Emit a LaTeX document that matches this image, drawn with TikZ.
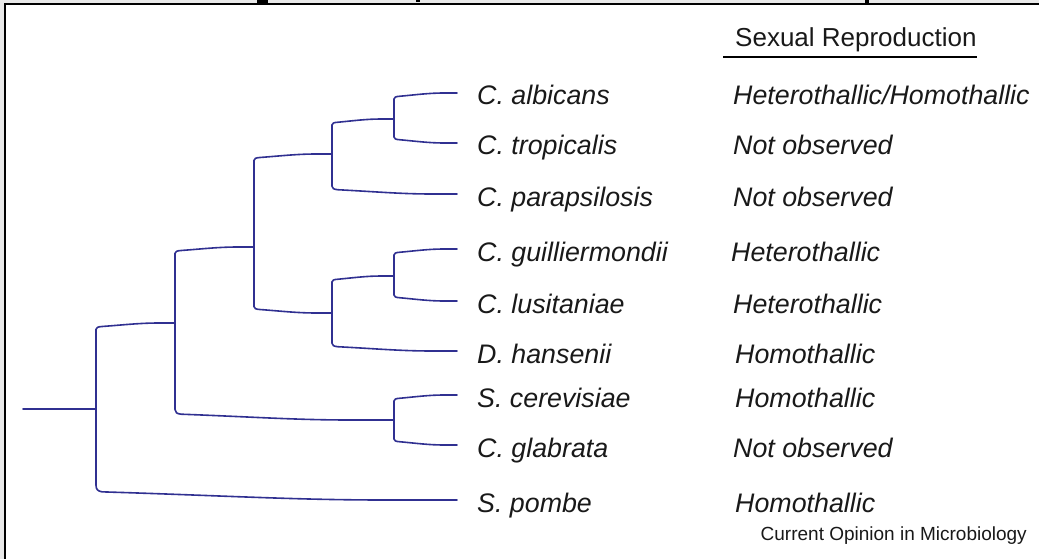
\documentclass[tikz,border=0pt]{standalone}
\usepackage{fontspec}
\setmainfont{Liberation Sans}
\usetikzlibrary{calc}
\definecolor{treeblue}{RGB}{48,48,145}
\definecolor{ink}{RGB}{25,25,25}
\definecolor{bandgray}{RGB}{232,232,232}
\tikzset{
  br/.style={draw=treeblue, line width=1.6pt, line cap=round, line join=round},
  sp/.style={anchor=base west, inner sep=0pt, text=ink, font=\fontsize{26.8}{30}\selectfont\itshape},
  rep/.style={anchor=base west, inner sep=0pt, text=ink, font=\fontsize{26.8}{30}\selectfont\itshape},
  head/.style={anchor=base west, inner sep=0pt, text=ink, font=\fontsize{26}{30}\selectfont},
  foot/.style={anchor=base east, inner sep=0pt, text=ink, font=\fontsize{19}{22}\selectfont}
}
\newcommand{\branch}[2]{%
  \draw[br] let \p1=(#1), \p2=(#2),
    \n1={sign(\y1-\y2)*(4+0.03*(\x2-\x1))}, \n2={\x2-\x1} in
    (#1) -- (\x1,\y2+\n1)
    .. controls (\x1,\y2+0.7*\n1) and (\x1+2,\y2+0.6*\n1) .. (\x1+6,\y2+0.55*\n1)
    .. controls (\x1+0.35*\n2,\y2+0.3*\n1) and (\x1+0.55*\n2,\y2) .. (\x1+0.8*\n2,\y2)
    -- (#2);}
\begin{document}
\begin{tikzpicture}[x=1pt,y=-1pt]
\useasboundingbox (0,0) rectangle (1039,559);
% background
\fill[bandgray] (0,0) rectangle (1039,559);
\fill[white] (5,4.5) rectangle (1039,559);
\draw[black, line width=2pt] (5,559) -- (5,4.5) -- (1039,4.5);
% title fragments cut off at the top edge
\fill[black] (257,0) rectangle (268,3);
\fill[black] (416,0) rectangle (420,2.5);
\fill[black] (865,0) rectangle (869,4);
% leaf ends
\coordinate (e1) at (457,93);
\coordinate (e2) at (457,143);
\coordinate (e3) at (457,194);
\coordinate (e4) at (457,249);
\coordinate (e5) at (457,301);
\coordinate (e6) at (457,351);
\coordinate (e7) at (457,395);
\coordinate (e8) at (457,445);
\coordinate (e9) at (457,500);
% internal nodes
\coordinate (A) at (394,119);
\coordinate (B) at (332,154);
\coordinate (E) at (394,276);
\coordinate (D) at (332,313);
\coordinate (C) at (254,247);
\coordinate (G) at (394,420);
\coordinate (F) at (175,323);
\coordinate (R) at (96,409);
\coordinate (root) at (23,409);
% branches
\branch{A}{e1}
\branch{A}{e2}
\branch{B}{A}
\branch{B}{e3}
\branch{E}{e4}
\branch{E}{e5}
\branch{D}{E}
\branch{D}{e6}
\branch{C}{B}
\branch{C}{D}
\branch{G}{e7}
\branch{G}{e8}
\branch{F}{C}
\branch{F}{G}
\branch{R}{F}
\branch{R}{e9}
\draw[br] (root) -- (R);
% species
\node[sp] (s1) at (477,105) {C. albicans};
\node[sp] (s2) at (477,155) {C. tropicalis};
\node[sp] (s3) at (477,206) {C. parapsilosis};
\node[sp] (s4) at (477,261) {C. guilliermondii};
\node[sp] (s5) at (477,313) {C. lusitaniae};
\node[sp] (s6) at (477,363) {D. hansenii};
\node[sp] (s7) at (477,407) {S. cerevisiae};
\node[sp] (s8) at (477,457) {C. glabrata};
\node[sp] (s9) at (477,512) {S. pombe};
% header
\node[head] (hd) at (735,47) {Sexual Reproduction};
\draw[black, line width=1.8pt] (723,57) -- (977,57);
% reproduction
\node[rep] (r1) at (733,105) {Heterothallic/Homothallic};
\node[rep] (r2) at (733,155) {Not observed};
\node[rep] (r3) at (733,206) {Not observed};
\node[rep] (r4) at (731,261) {Heterothallic};
\node[rep] (r5) at (733,313) {Heterothallic};
\node[rep] (r6) at (735,363) {Homothallic};
\node[rep] (r7) at (735,407) {Homothallic};
\node[rep] (r8) at (733,457) {Not observed};
\node[rep] (r9) at (735,512) {Homothallic};
% footer
\node[foot] (ft) at (1027,540) {Current Opinion in Microbiology};
\end{tikzpicture}
\end{document}
